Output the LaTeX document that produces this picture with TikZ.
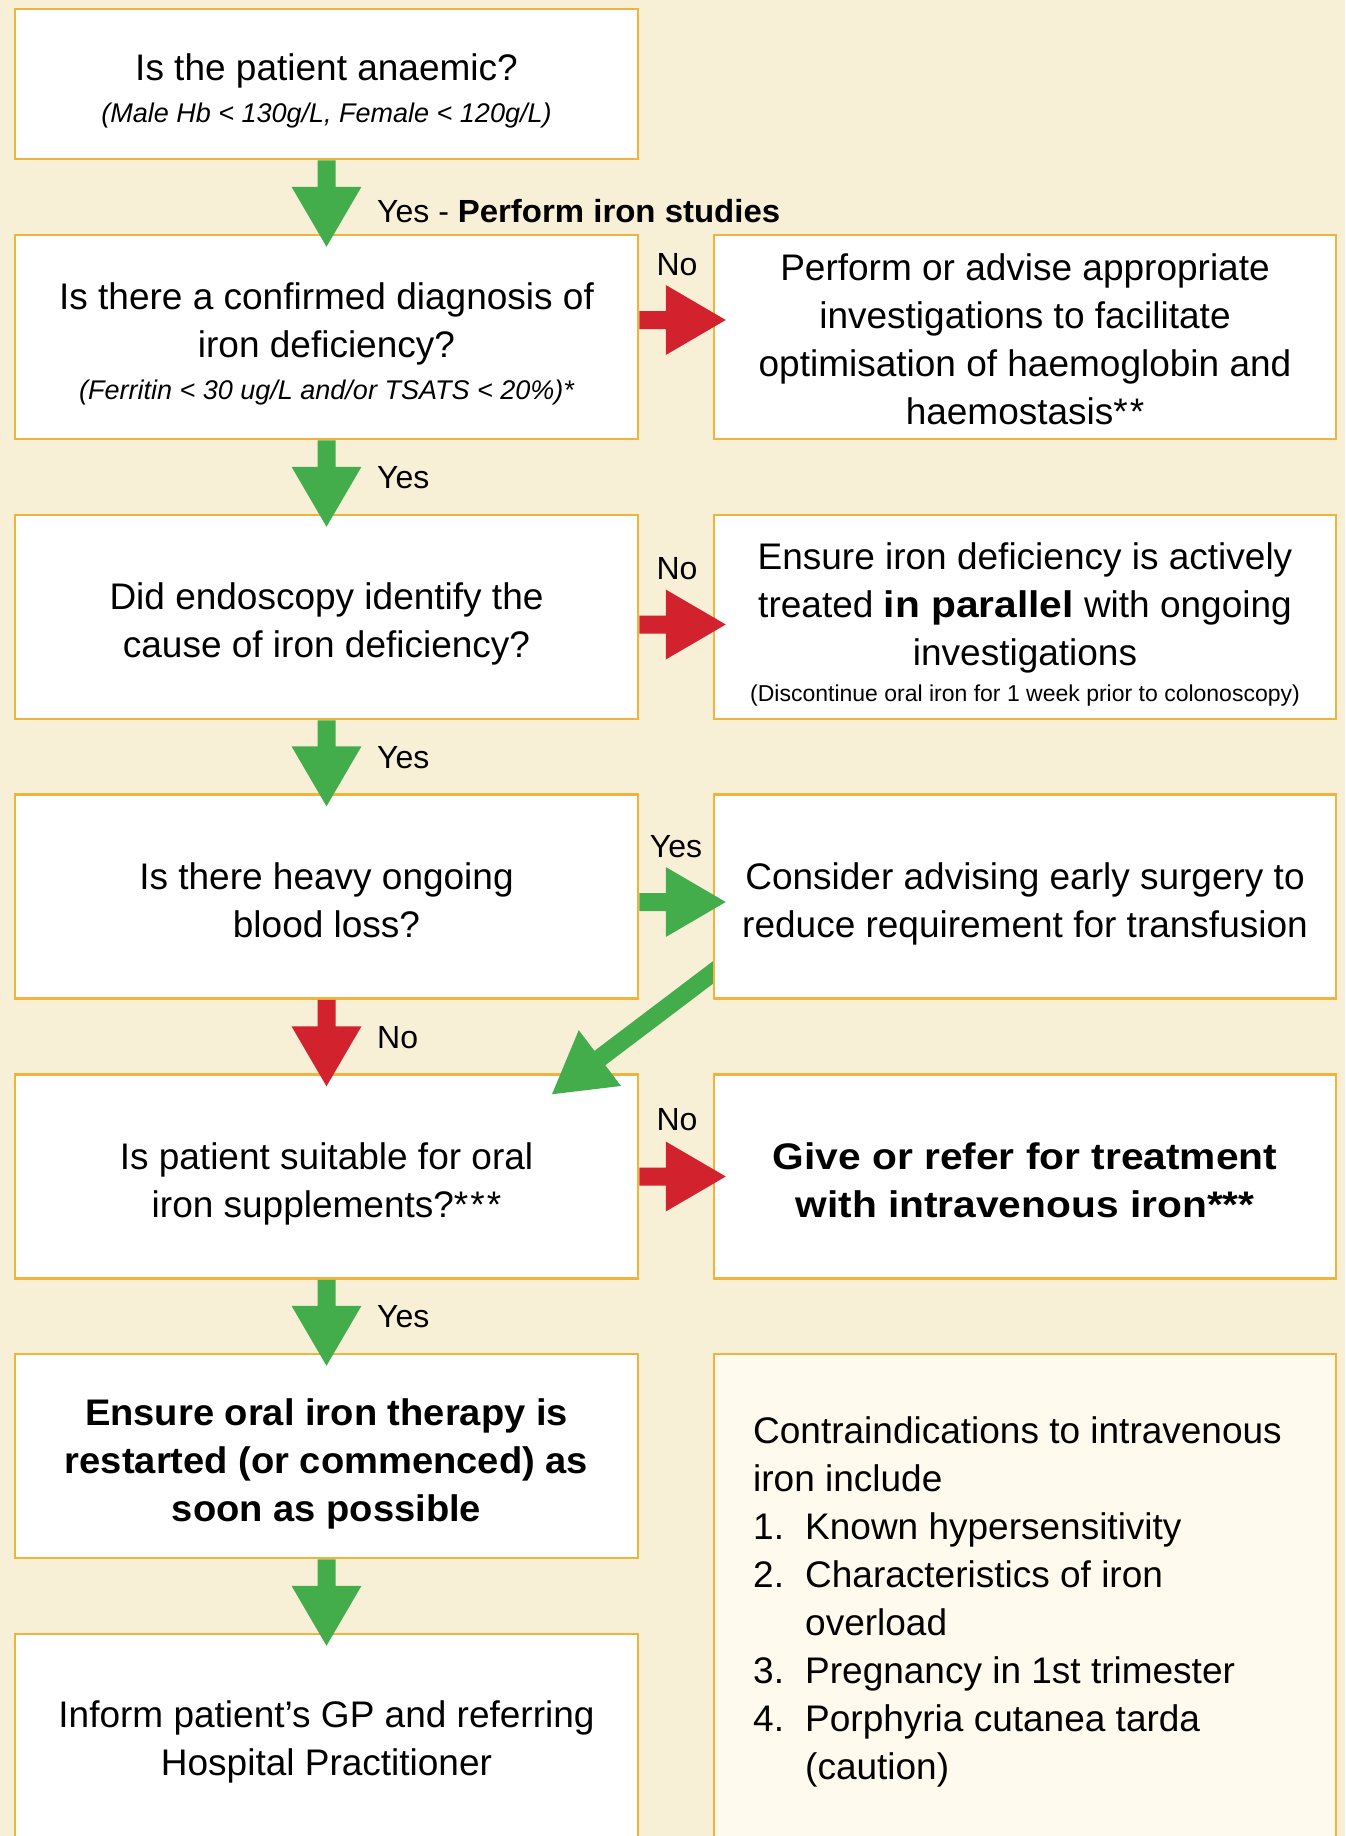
\documentclass[tikz,border=0pt]{standalone}
\usepackage{fontspec}
\setmainfont{Liberation Sans}[BoldFeatures={FakeStretch=1.03}]
\newfontfamily\widefam{Liberation Sans}[FakeStretch=1.1, BoldFeatures={FakeStretch=1.1}]
\usetikzlibrary{calc}
\definecolor{bg}{HTML}{F8EFD7}
\definecolor{bd}{HTML}{F0B43C}
\definecolor{gr}{HTML}{42AD4A}
\definecolor{rd}{HTML}{D2222D}
\definecolor{cream}{HTML}{FEFAEE}
\newcommand\notefont{\fontsize{27}{33}\selectfont\itshape}
\newcommand\smallnote{\fontsize{23}{28}\selectfont}
\newcommand\tp[1][41]{\rule{0pt}{#1pt}}
\newcommand\fatarrow[3]{%
  \fill[#1] let \p1=(#2), \p2=(#3), \n1={atan2(\y2-\y1,\x2-\x1)} in
    ($(\p1)+(\n1+90:9pt)$) -- ($(\p2)+(\n1+180:60pt)+(\n1+90:9pt)$) --
    ($(\p2)+(\n1+180:60pt)+(\n1+90:35pt)$) -- (\p2) --
    ($(\p2)+(\n1+180:60pt)+(\n1-90:35pt)$) -- ($(\p2)+(\n1+180:60pt)+(\n1-90:9pt)$) --
    ($(\p1)+(\n1-90:9pt)$) -- cycle;}
\begin{document}
\begin{tikzpicture}[x=1pt,y=-1pt,
  box/.style={draw=bd, line width=2.5pt, fill=white, inner sep=0pt, align=center,
    minimum height=204pt, font=\fontsize{37}{48}\selectfont},
  lbox/.style={box, minimum width=623pt},
  rbox/.style={box, minimum width=622pt},
  lbl/.style={font=\fontsize{32}{38}\selectfont, inner sep=0pt}]
\useasboundingbox (0,0) rectangle (1345,1836);
\fill[bg] (0,0) rectangle (1345,1836);
% left column
\node[lbox, minimum height=150pt] (b1) at (326.5,84) {\tp[40]Is the patient anaemic?\\[-6pt]{\notefont (Male Hb < 130g/L, Female < 120g/L)}};
\node[lbox] (b2) at (326.5,337) {\tp[41]Is there a confirmed diagnosis of\\ iron deficiency?\\[-6pt]{\notefont (Ferritin < 30 ug/L and/or TSATS < 20\%)*}};
\node[lbox] (b3) at (326.5,617) {\tp[41]Did endoscopy identify the\\ cause of iron deficiency?};
\node[lbox] (b4) at (326.5,896.5) {\tp[34]Is there heavy ongoing\\ blood loss?};
\node[lbox] (b5) at (326.5,1176.5) {\tp[41]Is patient suitable for oral\\ iron supplements?*\kern2pt*\kern2pt*};
\node[lbox, font=\fontsize{37}{48}\selectfont\bfseries] (b6) at (326.5,1456) {\tp[43]Ensure oral iron therapy is\\ restarted (or commenced) as\\ soon as possible};
\node[lbox] (b7) at (326.5,1736) {\tp[39]Inform patient’s GP and referring\\ Hospital Practitioner};
% right column
\node[rbox] (rb2) at (1025,337) {\tp[32]Perform or advise appropriate\\ investigations to facilitate\\ optimisation of haemoglobin and\\ haemostasis*\kern2pt*};
\node[rbox] (rb3) at (1025,617) {\tp[41]Ensure iron deficiency is actively\\ treated {\widefam\bfseries in parallel} with ongoing\\ investigations\\[-12pt]{\smallnote (Discontinue oral iron for 1 week prior to colonoscopy)}};
\node[rbox] (rb4) at (1025,896.5) {\tp[41]Consider advising early surgery to\\ reduce requirement for transfusion};
\node[rbox, font=\fontsize{37}{48}\selectfont\widefam\bfseries] (rb5) at (1025,1176.5) {\tp[35]Give or refer for treatment\\ with intravenous iron***};
\node[rbox, fill=cream, minimum height=484pt] (rb6) at (1025,1596) {};
\node[anchor=north west, inner sep=0pt, align=left, font=\fontsize{37}{48}\selectfont] (ci) at (753,1416) {Contraindications to intravenous\\ iron include\\ \makebox[52pt][l]{1.}Known hypersensitivity\\ \makebox[52pt][l]{2.}Characteristics of iron\\ \hspace*{52pt}overload\\ \makebox[52pt][l]{3.}Pregnancy in 1st trimester\\ \makebox[52pt][l]{4.}Porphyria cutanea tarda\\ \hspace*{52pt}(caution)};
% arrows down
\fatarrow{gr}{b1.south}{$(b2.north)+(0pt,-13pt)$}
\fatarrow{gr}{b2.south}{$(b3.north)+(0pt,-13pt)$}
\fatarrow{gr}{b3.south}{$(b4.north)+(0pt,-13pt)$}
\fatarrow{rd}{b4.south}{$(b5.north)+(0pt,-13pt)$}
\fatarrow{gr}{b5.south}{$(b6.north)+(0pt,-13pt)$}
\fatarrow{gr}{b6.south}{$(b7.north)+(0pt,-13pt)$}
% arrows right
\fatarrow{rd}{$(b2.east)+(0pt,17pt)$}{$(rb2.west)+(13pt,17pt)$}
\fatarrow{rd}{$(b3.east)+(0pt,-7.5pt)$}{$(rb3.west)+(13pt,-7.5pt)$}
\fatarrow{gr}{$(b4.east)+(0pt,-5.5pt)$}{$(rb4.west)+(13pt,-5.5pt)$}
\fatarrow{rd}{b5.east}{$(rb5.west)+(13pt,0pt)$}
% diagonal
\begin{scope}
\clip (rb4.north west) rectangle (0,1836);
\fatarrow{gr}{$(rb4.west)+(16pt,-64pt)$}{$(b5.north)+(225.5pt,-21pt)$}
\end{scope}
% labels
\node[lbl, anchor=base west] (y1) at (377,222) {Yes - \textbf{Perform iron studies}};
\node[lbl, anchor=base west] (y2) at (377,488) {Yes};
\node[lbl, anchor=base west] (y3) at (377,768) {Yes};
\node[lbl, anchor=base west] (n4) at (377,1048) {No};
\node[lbl, anchor=base west] (y5) at (377,1327) {Yes};
\node[lbl, anchor=base] (n2) at (677,275) {No};
\node[lbl, anchor=base] (n3) at (677,579) {No};
\node[lbl, anchor=base] (y4) at (676,857) {Yes};
\node[lbl, anchor=base] (n5) at (677,1130) {No};
\end{tikzpicture}
\end{document}
